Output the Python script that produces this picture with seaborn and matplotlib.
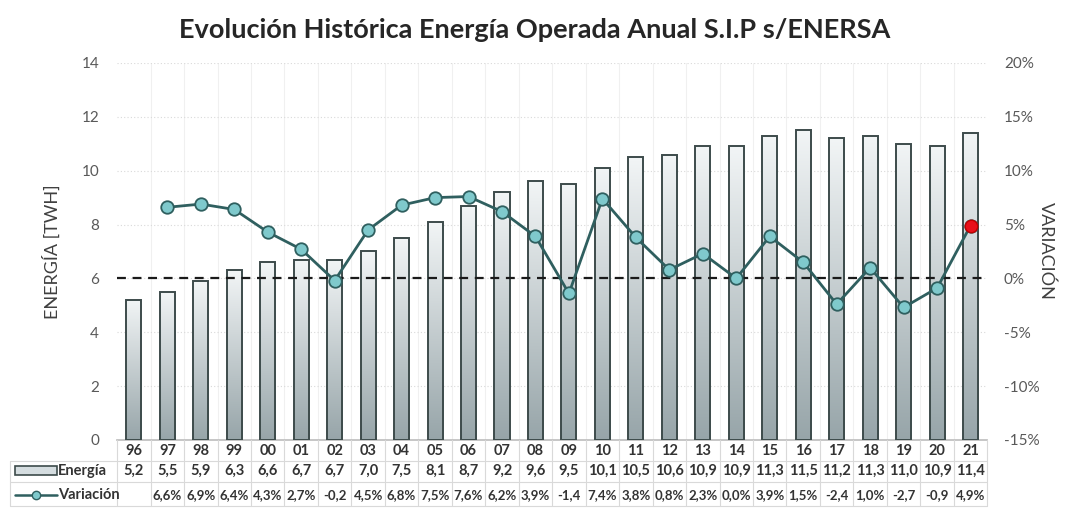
import numpy as np
import pandas as pd
import matplotlib
matplotlib.use("Agg")
import matplotlib.pyplot as plt
import matplotlib.transforms as mtransforms
from matplotlib.patches import Rectangle
from matplotlib.lines import Line2D
import seaborn as sns

# Data
years = ["96", "97", "98", "99", "00", "01", "02", "03", "04", "05", "06", "07", "08",
         "09", "10", "11", "12", "13", "14", "15", "16", "17", "18", "19", "20", "21"]
energia = [5.2, 5.5, 5.9, 6.3, 6.6, 6.7, 6.7, 7.0, 7.5, 8.1, 8.7, 9.2, 9.6,
           9.5, 10.1, 10.5, 10.6, 10.9, 10.9, 11.3, 11.5, 11.2, 11.3, 11.0, 10.9, 11.4]
variacion = [np.nan, 6.6, 6.9, 6.4, 4.3, 2.7, -0.2, 4.5, 6.8, 7.5, 7.6, 6.2, 3.9,
             -1.4, 7.4, 3.8, 0.8, 2.3, 0.0, 3.9, 1.5, -2.4, 1.0, -2.7, -0.9, 4.9]
variacion_txt = ["", "6,6%", "6,9%", "6,4%", "4,3%", "2,7%", "-0,2", "4,5%", "6,8%",
                 "7,5%", "7,6%", "6,2%", "3,9%", "-1,4", "7,4%", "3,8%", "0,8%", "2,3%",
                 "0,0%", "3,9%", "1,5%", "-2,4", "1,0%", "-2,7", "-0,9", "4,9%"]

df = pd.DataFrame({"year": years, "energia": energia, "variacion": variacion})
df["pos"] = np.arange(len(df))

sns.set_theme(style="white")
plt.rcParams["font.family"] = ["Lato", "DejaVu Sans"]

LINE_C = "#2f5f5f"
MARK_C = "#7fc9cc"
EDGE_C = "#3d4b4b"
TXT_C = "#404040"

fig = plt.figure(figsize=(10.65, 5.08), dpi=100)
ax = fig.add_axes([0.110, 0.134, 0.817, 0.742])

sns.barplot(data=df, x="year", y="energia", ax=ax, width=0.45, color="#dfe6e8",
            edgecolor=EDGE_C, linewidth=1.4, saturation=1, zorder=3)

# vertical gradient inside each bar: light on top, grey at the base
grad = np.linspace(0, 1, 256).reshape(-1, 1)
cmap = matplotlib.colors.LinearSegmentedColormap.from_list("g", ["#f2f5f6", "#97a5a9"])
for p in ax.patches:
    x0, y0 = p.get_x(), p.get_y()
    w, h = p.get_width(), p.get_height()
    im = ax.imshow(grad, extent=[x0, x0 + w, y0, y0 + h], aspect="auto", cmap=cmap,
                   origin="upper", zorder=3.5)
    im.set_clip_path(p)
    p.set_facecolor("none")
    p.set_zorder(4)

ax.set_xlim(-0.5, len(years) - 0.5)
ax.set_ylim(0, 14)
ax.set_yticks(np.arange(0, 15, 2))
ax.set_xticks([])
ax.set_xlabel("")
ax.set_ylabel("ENERGÍA [TWH]", fontsize=13, color=TXT_C, labelpad=15)
ax.tick_params(axis="y", labelsize=11, labelcolor="#595959", length=0, pad=13)
for yv in np.arange(2, 15, 2):
    ax.axhline(yv, color="#d9d9d9", lw=0.8, ls=(0, (1, 2)), zorder=1)
for xv in np.arange(0.5, len(years) - 0.5, 1):
    ax.axvline(xv, color="#f0f0f0", lw=0.8, zorder=0)
for s in ax.spines.values():
    s.set_visible(False)
ax.spines["bottom"].set_visible(True)
ax.spines["bottom"].set_color("#bfbfbf")

ax2 = ax.twinx()
sns.lineplot(data=df, x="pos", y="variacion", ax=ax2, color=LINE_C, lw=2,
             marker="o", markersize=9, markerfacecolor=MARK_C, markeredgecolor=LINE_C,
             markeredgewidth=1.3, zorder=6)
last = df.iloc[-1]
ax2.plot(last["pos"], last["variacion"], "o", ms=9, color="#e8101a", mec="#c00000", zorder=7)
ax2.axhline(0, color="#1a1a1a", lw=1.6, ls=(0, (4, 3)), zorder=5)
ax2.set_ylim(-15, 20)
ax2.set_yticks(np.arange(-15, 21, 5))
ax2.set_yticklabels([f"{v}%" for v in range(-15, 21, 5)])
ax2.tick_params(axis="y", labelsize=11, labelcolor="#595959", length=0, pad=12)
ax2.set_xlabel("")
ax2.set_ylabel("")
fig.text(1046 / 1065, 1 - 251 / 508, "VARIACIÓN", rotation=-90, ha="center",
         va="center", fontsize=13, color=TXT_C)
for s in ax2.spines.values():
    s.set_visible(False)

fig.suptitle("Evolución Histórica Energía Operada Anual S.I.P s/ENERSA",
             fontsize=19.5, fontweight="bold", y=0.965, x=0.502)

# data table under the plot
trans = mtransforms.blended_transform_factory(ax.transData, fig.transFigure)
row_y = [1 - 451 / 508, 1 - 471 / 508, 1 - 495 / 508]
for i, yr in enumerate(years):
    ax.text(i, row_y[0], yr, transform=trans, ha="center", va="center",
            fontsize=10.5, fontweight="bold", color="#333333")
    ax.text(i, row_y[1], f"{energia[i]:.1f}".replace(".", ","), transform=trans,
            ha="center", va="center", fontsize=10.5, fontweight="bold", color="#333333")
    ax.text(i, row_y[2], variacion_txt[i], transform=trans, ha="center", va="center",
            fontsize=9.5, fontweight="bold", color="#333333")

grid_c = "#d9d9d9"
for xv in np.arange(-0.5, len(years), 1):
    fig.add_artist(Line2D([xv, xv], [1 - 440 / 508, 1 - 506 / 508], transform=trans,
                          color=grid_c, lw=0.8))
for yv in [461, 482, 506]:
    fig.add_artist(Line2D([10 / 1065, 0.927], [1 - yv / 508] * 2,
                          transform=fig.transFigure, color=grid_c, lw=0.8))
fig.add_artist(Line2D([10 / 1065] * 2, [1 - 461 / 508, 1 - 506 / 508],
                      transform=fig.transFigure, color=grid_c, lw=0.8))

# legend keys inside the table
fig.add_artist(Rectangle((15 / 1065, 1 - 475 / 508), 42 / 1065, 9 / 508,
                         transform=fig.transFigure, facecolor="#d5dde0",
                         edgecolor=EDGE_C, lw=1.2))
fig.text(58 / 1065, row_y[1], "Energía", ha="left", va="center", fontsize=10.5,
         fontweight="bold", color="#333333")
fig.add_artist(Line2D([15 / 1065, 57 / 1065], [row_y[2]] * 2, transform=fig.transFigure,
                      color=LINE_C, lw=1.8))
fig.add_artist(Line2D([36 / 1065], [row_y[2]], transform=fig.transFigure, marker="o",
                      ms=6, mfc=MARK_C, mec=LINE_C, lw=0))
fig.text(58 / 1065, row_y[2], "Variación", ha="left", va="center", fontsize=10.5,
         fontweight="bold", color="#333333")

fig.savefig("out.png", dpi=100)
